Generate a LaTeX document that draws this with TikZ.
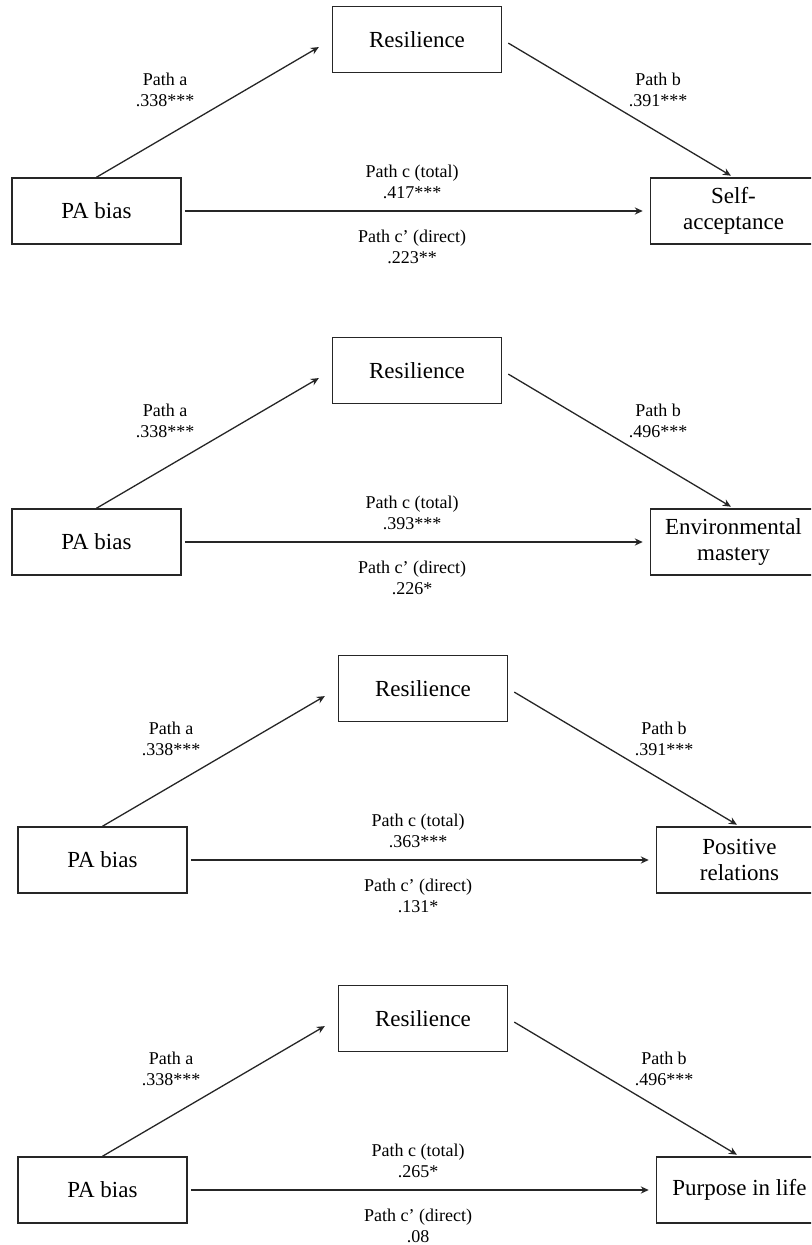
\documentclass[tikz,border=0pt]{standalone}
\usepackage{fontspec}
\setmainfont{Liberation Serif}
\usetikzlibrary{arrows.meta, positioning}

\begin{document}
\begin{tikzpicture}[
  x=0.5pt, y=-0.5pt,
  box/.style    = {rectangle, draw=black!85, line width=0.75pt,
                   minimum width=84.5pt, minimum height=33pt, inner sep=0pt,
                   font=\fontsize{11.5}{13}\selectfont, align=center},
  outbox/.style = {box, minimum width=83pt},
  arr/.style    = {-{Stealth[length=4pt, width=3.6pt]}, line width=0.65pt, draw=black!85},
  lbl/.style    = {font=\fontsize{9}{10.5}\selectfont, align=center, inner sep=0pt},
]

% ── Page frame ─────────────────────────────────────────────────────────────────
\useasboundingbox (0,0) rectangle (811,1245);
\clip (0,0) rectangle (811,1245);

% ── One mediation model per outcome ────────────────────────────────────────────
\foreach \k/\dx/\dy/\outcome/\bval/\cval/\dval in {
    1/0/0/{Self-\\acceptance}/.391***/.417***/.223**,
    2/0/331/{Environmental\\mastery}/.496***/.393***/.226*,
    3/6/649/{Positive\\relations}/.391***/.363***/.131*,
    4/6/979/{Purpose in life}/.496***/.265*/.08}
{
  \begin{scope}[shift={(\dx,\dy)}]
    % boxes
    \node[box] (pa\k) at (96.5,211) {PA bias};
    \node[box, above right=52pt and 75pt of pa\k] (res\k) {Resilience};
    \node[outbox, right=234pt of pa\k] (out\k) {\outcome};

    % paths
    \draw[arr, shorten >=7.5pt] (pa\k.north) -- (res\k.west);
    \draw[arr, shorten <=3.5pt, shorten >=1.5pt] (res\k.east) -- (out\k.north);
    \draw[arr, shorten <=1.5pt, shorten >=3.5pt] (pa\k.east) -- (out\k.west);

    % coefficients
    \node[lbl] (la\k) at (165,90)  {Path a\\.338***};
    \node[lbl] (lb\k) at (658,90)  {Path b\\\bval};
    \node[lbl] (lc\k) at (412,182) {Path c (total)\\\cval};
    \node[lbl] (ld\k) at (412,247) {Path c’ (direct)\\\dval};
  \end{scope}
}

\end{tikzpicture}
\end{document}
